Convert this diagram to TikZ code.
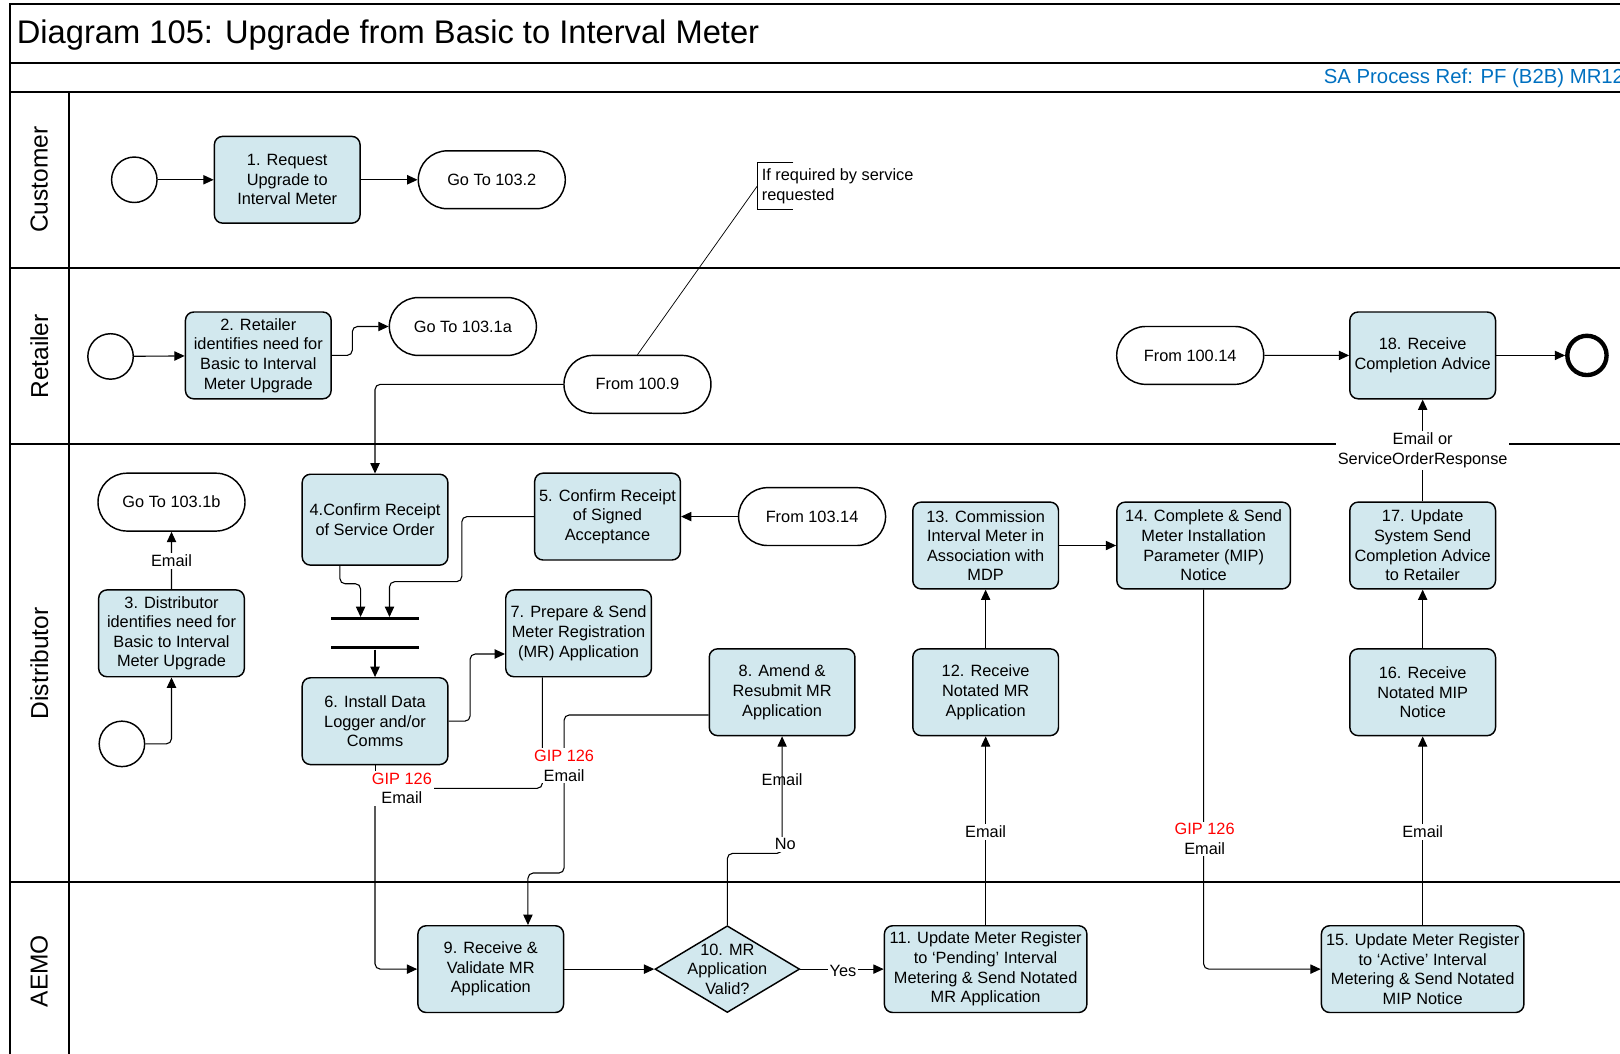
\documentclass[tikz,border=0pt]{standalone}
\usepackage{fontspec}
\setmainfont{Liberation Sans}
\usetikzlibrary{arrows.meta, positioning, shapes.misc, shapes.geometric, calc}
\definecolor{mrblue}{HTML}{D2E8EE}
\definecolor{mrred}{HTML}{FF0000}
\definecolor{mrref}{HTML}{0070C0}

\begin{document}
\begin{tikzpicture}[
  x=0.2mm, y=-0.2mm,
  every node/.style={font=\fontsize{9}{10.8}\selectfont},
  task/.style={rectangle, draw, fill=mrblue, rounded corners=1.6mm, minimum width=28.2mm, minimum height=16.8mm, align=center, inner sep=1pt, line width=0.8pt},
  widetask/.style={task, minimum width=39.2mm},
  link/.style={rounded rectangle, draw, fill=white, minimum width=30.8mm, minimum height=11.2mm, line width=0.8pt},
  startev/.style={circle, draw, fill=white, minimum size=8.8mm, inner sep=0pt, line width=0.8pt},
  endev/.style={circle, draw, fill=white, minimum size=7.6mm, inner sep=0pt, line width=2.4pt},
  gate/.style={diamond, draw, fill=mrblue, aspect=1.667, minimum width=28mm, minimum height=16.8mm, inner sep=0pt, line width=0.8pt},
  joinbar/.style={rectangle, fill=black, minimum width=17.2mm, minimum height=0.6mm, inner sep=0pt},
  flow/.style={-{Triangle[length=2mm, width=1.8mm]}, line width=0.6pt, rounded corners=1mm},
  lbl/.style={fill=white, inner sep=1pt, align=center},
  lane/.style={line width=1.1pt},
  lanename/.style={rotate=90, font=\fontsize{13.5}{16}\selectfont},
]
\useasboundingbox (0,0) rectangle (1568,1020);

% Frame and swim lanes
\draw[lane] (1568,4) -- (10,4) -- (10,1020);
\draw[lane] (10,61) -- (1568,61);
\draw[lane] (10,89) -- (1568,89);
\draw[lane] (67,89) -- (67,1020);
\foreach \y in {259,430,854}
  \draw[lane] (10,\y) -- (1568,\y);

\node[anchor=west, inner sep=0pt, font=\fontsize{18}{21.6}\selectfont] (title) at (16,34) {Diagram 105: Upgrade from Basic to Interval Meter};
\node[anchor=west, inner sep=0pt, font=\fontsize{11.2}{13}\selectfont, text=mrref] (saref) at (1281,76) {SA Process Ref: PF (B2B) MR12};

\node[lanename] (lcust) at (38,174) {Customer};
\node[lanename] (lret) at (38,345) {Retailer};
\node[lanename] (ldist) at (38,642) {Distributor};
\node[lanename] (laemo) at (38,940) {AEMO};

% Customer
\node[startev] (s1) at (130,174) {};
\node[task] (t1) at (278,174) {1. Request\\Upgrade to\\Interval Meter};
\node[link] (g1032) at (476,174) {Go To 103.2};
\node[anchor=west, align=left, inner sep=0pt] (note) at (737,180) {If required by service\\requested};
\coordinate (notetip) at (733,180);
\draw (768,157) -- (733,157) -- (733,203) -- (768,203);

% Retailer
\node[startev] (s2) at (107,345) {};
\node[task] (t2) at (250,344) {2. Retailer\\identifies need for\\Basic to Interval\\Meter Upgrade};
\node[link] (g1031a) at (448,316) {Go To 103.1a};
\node[link] (f1009) at (617,372) {From 100.9};
\node[link] (f10014) at (1152,344) {From 100.14};
\node[task] (t18) at (1377,344) {18. Receive\\Completion Advice};
\node[endev] (e1) at (1536,344) {};

% Distributor
\node[link] (g1031b) at (166,486) {Go To 103.1b};
\node[task] (t3) at (166,613) {3. Distributor\\identifies need for\\Basic to Interval\\Meter Upgrade};
\node[startev] (s3) at (118,720) {};
\node[task, minimum height=17.6mm] (t4) at (363,503) {4.Confirm Receipt\\of Service Order};
\node[task] (t5) at (588,500) {5. Confirm Receipt\\of Signed\\Acceptance};
\node[link] (f10314) at (786,500) {From 103.14};
\node[joinbar] (j1) at (363,599) {};
\node[joinbar] (j2) at (363,627) {};
\node[task] (t6) at (363,698) {6. Install Data\\Logger and/or\\Comms};
\node[task] (t7) at (560,613) {7. Prepare \& Send\\Meter Registration\\(MR) Application};
\node[task] (t8) at (757,670) {8. Amend \&\\Resubmit MR\\Application};
\node[task] (t12) at (954,670) {12. Receive\\Notated MR\\Application};
\node[task] (t13) at (954,528) {13. Commission\\Interval Meter in\\Association with\\MDP};
\node[task, minimum width=33.6mm] (t14) at (1165,528) {14. Complete \& Send\\Meter Installation\\Parameter (MIP)\\Notice};
\node[task] (t16) at (1377,670) {16. Receive\\Notated MIP\\Notice};
\node[task] (t17) at (1377,528) {17. Update\\System Send\\Completion Advice\\to Retailer};

% AEMO
\node[task] (t9) at (475,938) {9. Receive \&\\Validate MR\\Application};
\node[gate] (d10) at (704,938) {};
\node[align=center, inner sep=0pt] (d10txt) at (d10) {10. MR\\Application\\Valid?};
\node[widetask] (t11) at (954,938) {11. Update Meter Register\\to ‘Pending’ Interval\\Metering \& Send Notated\\MR Application};
\node[widetask] (t15) at (1377,938) {15. Update Meter Register\\to ‘Active’ Interval\\Metering \& Send Notated\\MIP Notice};

% Connectors
\draw[flow] (s1) -- (t1);
\draw[flow] (t1) -- (g1032);
\draw (notetip) -- (f1009.north);
\draw[flow] (s2) -- (t2);
\draw[flow] (t2.east) -- (341,344) -- (341,316) -- (g1031a.west);
\draw[flow] (f1009.west) -| (t4.north);
\draw[flow] (f10014) -- (t18);
\draw[flow] (t18) -- (e1);
\draw[flow] (t17) -- (t18);
\draw[flow] (t3) -- (g1031b);
\draw[flow] (s3.east) -| (t3.south);
\draw[flow] (f10314) -- (t5);
\draw[flow] ([xshift=-6.8mm]t4.south) -- (329,565) -- (349,565) -- ([xshift=-2.8mm]j1.north);
\draw[flow] (t5.west) -- (447,500) -- (447,563) -- (377,563) -- ([xshift=2.8mm]j1.north);
\draw[flow] (j2) -- (t6);
\draw[flow] (t6.east) -- (455,698) -- (455,633) -- ([yshift=-4mm]t7.west);
\draw (t6.south) -- (363,763);
\draw[flow] ([xshift=-7mm]t7.south) -- (525,763) -- (363,763) -- (363,938) -- (t9.west);
\draw[flow] ([yshift=-4.4mm]t8.west) -- (546,692) -- (546,845) -- (511,845) -- ([xshift=7.2mm]t9.north);
\draw[flow] (t9.east) -- (d10.west);
\draw[flow] (d10.north) -- (704,826) -- (757,826) -- (t8.south);
\draw[flow] (d10.east) -- (t11.west);
\draw[flow] (t11) -- (t12);
\draw[flow] (t12) -- (t13);
\draw[flow] (t13) -- (t14);
\draw[flow] (t14.south) |- (t15.west);
\draw[flow] (t15) -- (t16);
\draw[flow] (t16) -- (t17);

% Connector labels
\node[lbl] (em3) at (166,543) {Email};
\node[lbl] (gip6) at (389,763) {\textcolor{mrred}{GIP 126}\\Email};
\node[lbl] (gip7) at (546,741) {\textcolor{mrred}{GIP 126}\\Email};
\node[inner sep=1pt] (em8) at (757,755) {Email};
\node[lbl] (no10) at (760,817) {No};
\node[lbl] (yes10) at (816,940) {Yes};
\node[lbl] (em11) at (954,805) {Email};
\node[lbl] (gip14) at (1166,812) {\textcolor{mrred}{GIP 126}\\Email};
\node[lbl] (em15) at (1377,805) {Email};
\node[lbl] (em17) at (1377,436) {Email or\\ServiceOrderResponse};

\end{tikzpicture}
\end{document}
